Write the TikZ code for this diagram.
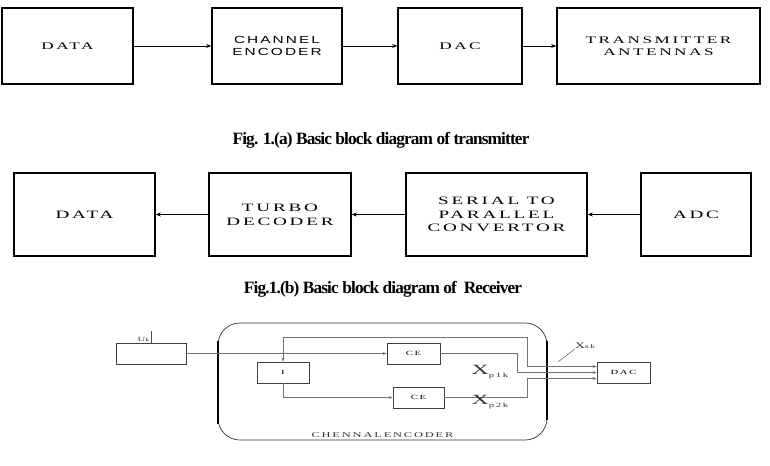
\documentclass[tikz,border=0pt]{standalone}
\usepackage{fontspec}
\setmainfont{Liberation Serif}
\newfontfamily\widefont[FakeStretch=1.7,LetterSpace=25]{Liberation Serif}
\newfontfamily\widesans[FakeStretch=1.5,LetterSpace=20]{Liberation Sans}
\newfontfamily\capfont[LetterSpace=-5]{Liberation Serif}
\usetikzlibrary{arrows.meta,positioning}

\begin{document}
\begin{tikzpicture}[
  x=0.025cm, y=-0.025cm,
  blk/.style={draw=black, line width=0.9pt, minimum height=1.9cm,
    font=\widefont\fontsize{7.2}{8.5}\selectfont, align=center, inner sep=1pt},
  rblk/.style={blk, minimum height=2.075cm, font=\widefont\fontsize{8}{9.8}\selectfont},
  sblk/.style={draw=black!75, line width=0.6pt, minimum height=0.525cm,
    font=\widefont\fontsize{4.5}{5}\selectfont, inner sep=1pt},
  fwd/.style={-{Stealth[length=1.3mm,width=1mm]}, line width=0.6pt},
  sig/.style={-{Stealth[length=1mm,width=0.8mm]}, draw=black!55, line width=0.4pt},
  caption/.style={font=\capfont\bfseries\fontsize{12.3}{14}\selectfont},
  lbl/.style={font=\widefont\fontsize{4.5}{5}\selectfont, text=black!80, inner sep=0pt}
]
  \useasboundingbox (0,0) rectangle (770,466);

  % (a) transmitter chain
  \node[blk, minimum width=3.275cm] (dat1)  at ( 67.5,46) {DATA};
  \node[blk, minimum width=3.25cm, font=\widesans\fontsize{7.3}{8.3}\selectfont]
                                    (chenc) at (277,46)   {CHANNEL\\ENCODER};
  \node[blk, minimum width=3.1cm]   (dac1)  at (460,46)   {DAC};
  \node[blk, minimum width=5.075cm] (txant) at (658.5,46) {TRANSMITTER\\ANTENNAS};

  \draw[fwd] (dat1) -- (chenc);
  \draw[fwd] (chenc) -- (dac1);
  \draw[fwd] (dac1) -- (txant);

  \node[caption] (capa) at (381,140) {Fig. 1.(a) Basic block diagram of transmitter};

  % (b) receiver chain, right to left
  \node[rblk, minimum width=3.525cm] (dat2)  at ( 84.5,214.5) {DATA};
  \node[rblk, minimum width=3.55cm]  (turbo) at (280,214.5)   {TURBO\\DECODER};
  \node[rblk, minimum width=4.525cm] (s2p)   at (496.5,214.5) {SERIAL TO\\PARALLEL\\CONVERTOR};
  \node[rblk, minimum width=2.75cm]  (adc)   at (696,214.5)   {ADC};

  \draw[fwd] (adc) -- (s2p);
  \draw[fwd] (s2p) -- (turbo);
  \draw[fwd] (turbo) -- (dat2);

  \node[caption] (capb) at (383,289) {Fig.1.(b) Basic block diagram of \ Receiver};

  % (c) channel encoder detail
  \node[draw=black!80, line width=0.5pt, rounded corners=0.55cm,
        minimum width=8.225cm, minimum height=2.925cm] (enc) at (382.5,381.5) {};
  \draw[line width=1.4pt] ([yshift=-0.45cm]enc.north west) -- ([yshift=0.4cm]enc.south west);
  \draw[line width=1.4pt] ([yshift=-0.45cm]enc.north east) -- ([yshift=0.5cm]enc.south east);
  \node[lbl, anchor=south, font=\widefont\fontsize{5.2}{6}\selectfont] (enclbl)
    at ([yshift=0.06cm]enc.south) {CHENNALENCODER};

  \node[sblk, minimum width=1.75cm]  (uk)   at (151,353.5) {};
  \node[sblk, minimum width=1.3cm]   (ilv)  at (283,372.5) {I};
  \node[sblk, minimum width=1.325cm] (ce1)  at (413.5,353.5) {CE};
  \node[sblk, minimum width=1.275cm] (ce2)  at (418.5,397.5) {CE};
  \node[sblk, minimum width=1.325cm] (dac2) at (623.5,372.5) {DAC};

  \coordinate (ukin) at (151,331);
  \coordinate (spl)  at (283,337);
  \coordinate (xskpt) at (558,362);
  \node[lbl, anchor=south east] (uklbl) at ([xshift=-0.03cm]ukin |- 0,342) {U\fontsize{3.5}{4}\selectfont k};
  \draw[draw=black!70, line width=0.5pt] (ukin) -- (uk.north);

  \draw[sig] (uk.east) -- (ce1.west);
  \draw[sig] (spl) -- (ilv.north);
  \draw[sig] (spl) -- ++(244,0) |- ([yshift=0.15cm]dac2.west);
  \draw[sig] (ilv.south) |- (ce2.west);
  \draw[sig] (ce1.east) -- ++(77,0) |- (dac2.west);
  \draw[sig] (ce2.east) -- ++(83,0) |- ([yshift=-0.15cm]dac2.west);

  % output labels
  \node[lbl, font=\widefont\fontsize{10}{11}\selectfont] (xp1) at (490,372)
    {X\raisebox{-0.4ex}{\fontsize{4.5}{5}\selectfont p1k}};
  \node[lbl, font=\widefont\fontsize{10}{11}\selectfont] (xp2) at (490,402)
    {X\raisebox{-0.4ex}{\fontsize{4.5}{5}\selectfont p2k}};
  \node[lbl, font=\widefont\fontsize{6}{7}\selectfont] (xsk) at (585,346)
    {X\fontsize{4}{5}\selectfont sk};
  \draw[draw=black!60, line width=0.4pt] (xsk.south west) -- (xskpt);

\end{tikzpicture}
\end{document}
